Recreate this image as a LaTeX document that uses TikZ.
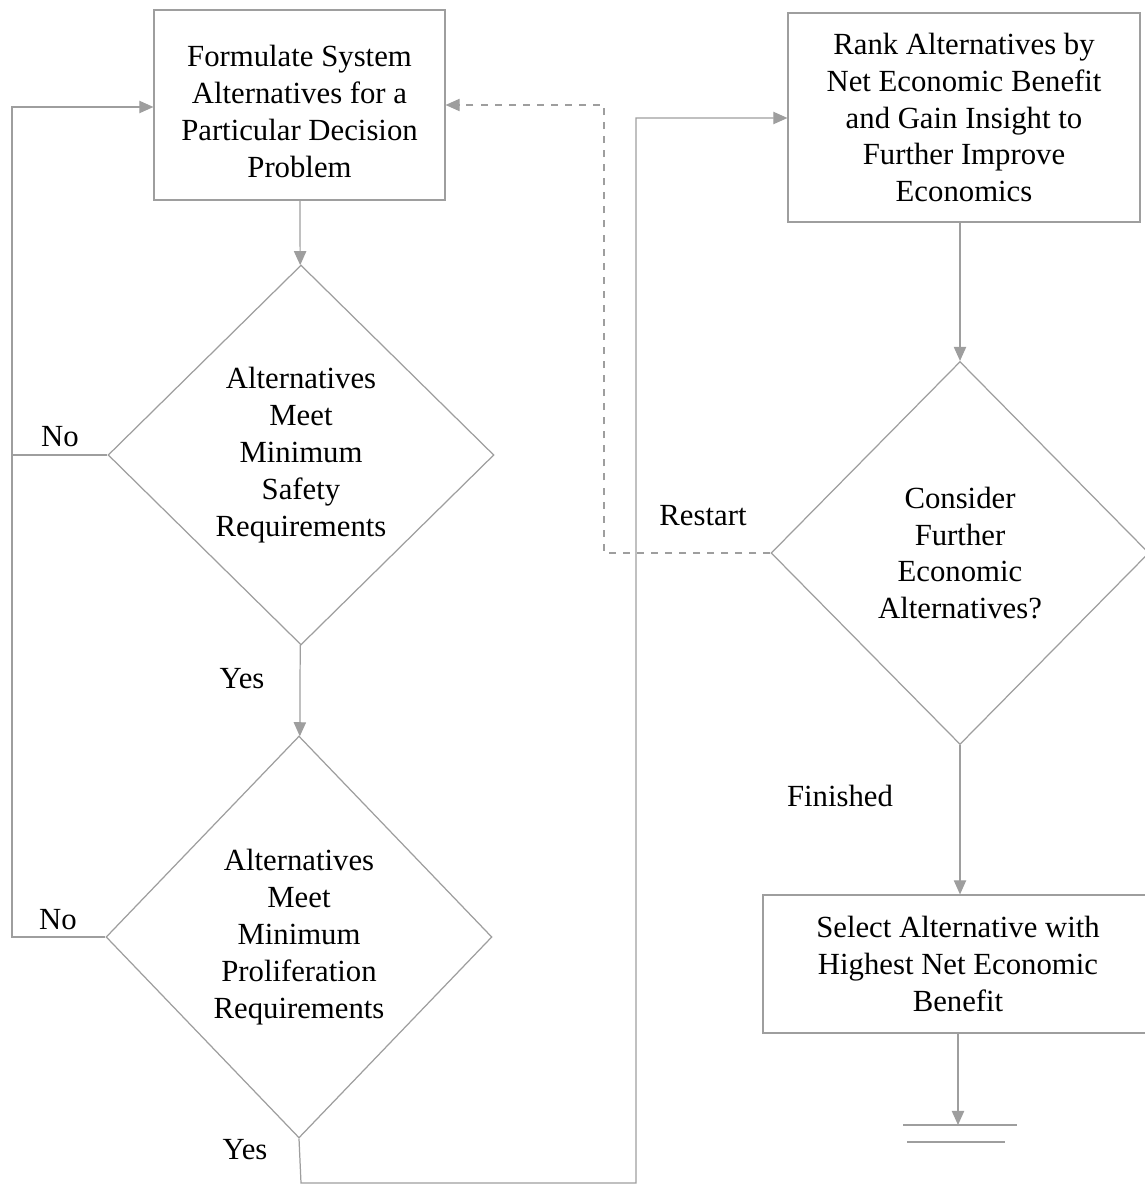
\documentclass[tikz,border=0pt]{standalone}
\usepackage{fontspec}
\setmainfont{Liberation Serif}
\usepackage{xcolor}
\usetikzlibrary{arrows.meta}
\usetikzlibrary{shapes.geometric}
\usetikzlibrary{positioning}
\definecolor{linha}{gray}{0.62}
\tikzset{
  texto/.style={font=\fontsize{17.5}{21}\selectfont},
  caixa/.style={draw=linha, line width=0.7pt, align=center, texto, minimum width=#1, inner sep=3pt},
  caixa/.default=5.8cm,
  losango/.style={draw=linha, line width=0.7pt, diamond, align=center, texto, inner sep=0pt},
  rotulo/.style={texto, inner sep=0pt},
  ligacao/.style={draw=linha, line width=0.7pt},
  seta/.style={ligacao, -{Triangle[length=8pt,width=7pt]}},
  tracejada/.style={ligacao, dash pattern=on 4pt off 4pt},
}
\begin{document}
\begin{tikzpicture}[x=0.02cm, y=-0.02cm]
  \useasboundingbox (0,0) rectangle (1145,1186);
  % coluna da esquerda
  \node[caixa=5.82cm, minimum height=3.8cm] (form) at (299.5,105) {\rule{0pt}{0.68cm}Formulate System\\Alternatives for a\\Particular Decision\\Problem};
  \node[losango, minimum width=7.72cm, minimum height=7.6cm] (seg) at (301,455) {Alternatives\\Meet\\Minimum\\Safety\\Requirements};
  \node[losango, minimum width=7.72cm, minimum height=8.04cm] (prol) at (299,937) {Alternatives\\Meet\\Minimum\\Proliferation\\Requirements};
  % coluna da direita
  \node[caixa=7.04cm, minimum height=4.18cm] (rank) at (964,117.5) {Rank Alternatives by\\Net Economic Benefit\\and Gain Insight to\\Further Improve\\Economics};
  \node[losango, minimum width=7.56cm, minimum height=7.66cm] (cons) at (960,553) {Consider\\Further\\Economic\\Alternatives?};
  \node[caixa=7.8cm, minimum height=2.76cm] (sel) at (958,964) {Select Alternative with\\Highest Net Economic\\Benefit};
  % rotulos
  \node[rotulo] (nao1) at (60,437) {No};
  \node[rotulo] (sim1) at (242,679) {Yes};
  \node[rotulo] (nao2) at (58,920) {No};
  \node[rotulo] (sim2) at (245,1150) {Yes};
  \node[rotulo] (reinicio) at (703,516) {Restart};
  \node[rotulo] (fim) at (840,796) {Finished};
  % pontos auxiliares
  \coordinate (esq) at (12,107);
  \coordinate (baixo) at (301,1183);
  \coordinate (meio) at (636,118);
  \coordinate (volta) at (604,553);
  \coordinate (terra) at (958,1125);
  % ligacoes
  \draw[seta] (form) -- (seg);
  \draw[seta] (seg) -- (prol);
  \draw[ligacao] (seg.west) -- (seg.west -| esq);
  \draw[seta] (prol.west) -- (prol.west -| esq) -- (esq) -- (esq -| form.west);
  \draw[seta] (prol.south) -- (baixo) -- (baixo -| meio) -- (meio) -- (meio -| rank.west);
  \draw[seta] (rank.south -| cons.north) -- (cons.north);
  \draw[seta] (cons.south) -- (cons.south |- sel.north);
  \draw[tracejada, -{Triangle[length=8pt,width=7pt]}] (cons.west) -- (volta) -- (volta |- form.east) -- (form.east);
  \draw[seta] (sel.south -| terra) -- (terra);
  \draw[ligacao] ([xshift=-1.1cm]terra) -- ([xshift=1.18cm]terra);
  \draw[ligacao] ([xshift=-1.02cm,yshift=-0.34cm]terra) -- ([xshift=0.94cm,yshift=-0.34cm]terra);
\end{tikzpicture}
\end{document}
